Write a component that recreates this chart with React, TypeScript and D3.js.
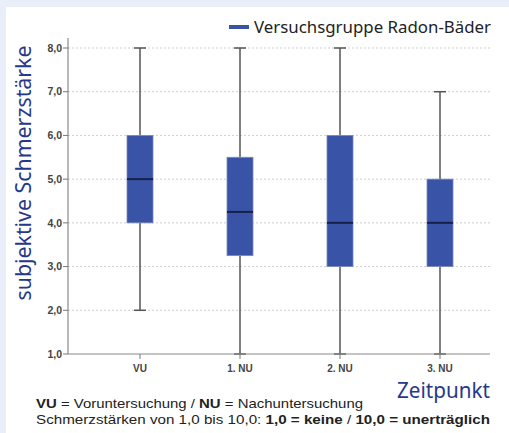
import React from "react";
import * as d3 from "d3";

const categories = ["VU", "1. NU", "2. NU", "3. NU"];
const mins = [2.0, 1.0, 1.0, 1.0];
const q1s = [4.0, 3.25, 3.0, 3.0];
const medians = [5.0, 4.25, 4.0, 4.0];
const q3s = [6.0, 5.5, 6.0, 5.0];
const maxs = [8.0, 8.0, 8.0, 7.0];
const yTicks = [1, 2, 3, 4, 5, 6, 7, 8];
const legendLabel = "Versuchsgruppe Radon-Bäder";
const yTitle = "subjektive Schmerzstärke";
const xTitle = "Zeitpunkt";

const W = 509;
const H = 433;

export default function App() {
  const x = d3.scaleBand<string>().domain(categories).range([90, 490]);
  const y = d3.scaleLinear().domain([1, 8]).range([354, 48]);
  const fmt = (v: number) => v.toFixed(1).replace(".", ",");
  const boxW = 26;
  const capW = 12;
  const axisLeft = 68;
  const axisRight = 490;
  const blue = "#3953a6";
  const titleBlue = "#27388a";
  const font = "'Noto Sans', 'Open Sans', sans-serif";
  const noteFont = "'Liberation Sans', Arial, sans-serif";

  return (
    <div style={{ position: "absolute", left: 0, top: 0 }}>
      <svg width={W} height={H} style={{ display: "block" }}>
        <rect x={0} y={0} width={W} height={H} fill="#e9eef8" />
        <rect x={6} y={7} width={W - 6} height={H - 7} fill="#ffffff" />

        {/* gridlines */}
        {yTicks.slice(1).map((t) => (
          <line
            key={"g" + t}
            x1={axisLeft}
            x2={axisRight}
            y1={y(t)}
            y2={y(t)}
            stroke="#cfcfcf"
            strokeWidth={1}
            strokeDasharray="2,2"
          />
        ))}

        {/* boxes */}
        {categories.map((c, i) => {
          const cx = (x(c) as number) + x.bandwidth() / 2;
          return (
            <g key={c}>
              <line x1={cx} x2={cx} y1={y(maxs[i])} y2={y(q3s[i])} stroke="#555" strokeWidth={1.5} />
              <line x1={cx} x2={cx} y1={y(q1s[i])} y2={y(mins[i])} stroke="#555" strokeWidth={1.5} />
              <line x1={cx - capW / 2} x2={cx + capW / 2} y1={y(maxs[i])} y2={y(maxs[i])} stroke="#555" strokeWidth={1.5} />
              <line x1={cx - capW / 2} x2={cx + capW / 2} y1={y(mins[i])} y2={y(mins[i])} stroke="#555" strokeWidth={1.5} />
              <rect
                x={cx - boxW / 2}
                y={y(q3s[i])}
                width={boxW}
                height={y(q1s[i]) - y(q3s[i])}
                fill={blue}
                stroke="#7b88bd"
                strokeWidth={0.8}
              />
              <line
                x1={cx - boxW / 2}
                x2={cx + boxW / 2}
                y1={y(medians[i])}
                y2={y(medians[i])}
                stroke="#16204a"
                strokeWidth={2}
              />
            </g>
          );
        })}

        {/* axes */}
        <line x1={axisLeft} x2={axisLeft} y1={38} y2={354} stroke="#8a8a8a" strokeWidth={1.2} />
        <line x1={axisLeft} x2={axisRight} y1={354} y2={354} stroke="#8a8a8a" strokeWidth={1.2} />
        {yTicks.map((t) => (
          <g key={"t" + t}>
            <line x1={axisLeft - 5} x2={axisLeft} y1={y(t)} y2={y(t)} stroke="#777" strokeWidth={1} />
            <text
              x={axisLeft - 6}
              y={y(t)}
              dy="0.35em"
              textAnchor="end"
              fontFamily="Arial, 'Liberation Sans', sans-serif"
              fontWeight="bold"
              fontSize={10.5}
              fill="#444"
            >
              {fmt(t)}
            </text>
          </g>
        ))}
        {categories.map((c) => {
          const cx = (x(c) as number) + x.bandwidth() / 2;
          return (
            <g key={"x" + c}>
              <line x1={cx} x2={cx} y1={354} y2={359} stroke="#777" strokeWidth={1} />
              <text
                x={cx}
                y={372}
                textAnchor="middle"
                fontFamily="Arial, 'Liberation Sans', sans-serif"
                fontWeight="bold"
                fontSize={10}
                fill="#444"
              >
                {c}
              </text>
            </g>
          );
        })}

        {/* legend */}
        <line x1={229} x2={249} y1={27} y2={27} stroke={blue} strokeWidth={4} />
        <text x={254} y={33} fontFamily={font} fontSize={16.5} fill="#222" textLength={237} lengthAdjust="spacingAndGlyphs">
          {legendLabel}
        </text>

        {/* titles */}
        <text
          transform={`translate(31,${173}) rotate(-90)`}
          textAnchor="middle"
          fontFamily={font}
          fontSize={21}
          fill={titleBlue}
          textLength={255}
          lengthAdjust="spacingAndGlyphs"
        >
          {yTitle}
        </text>
        <text x={490} y={398} textAnchor="end" fontFamily={font} fontSize={21} fill={titleBlue} textLength={93} lengthAdjust="spacingAndGlyphs">
          {xTitle}
        </text>

        {/* footnotes */}
        <text x={36} y={408} fontFamily={noteFont} fontSize={13.5} fill="#222" textLength={327} lengthAdjust="spacingAndGlyphs">
          <tspan fontWeight="bold">VU</tspan>
          <tspan> = Voruntersuchung / </tspan>
          <tspan fontWeight="bold">NU</tspan>
          <tspan> = Nachuntersuchung</tspan>
        </text>
        <text x={36} y={424} fontFamily={noteFont} fontSize={13.5} fill="#222" textLength={454} lengthAdjust="spacingAndGlyphs">
          <tspan>Schmerzstärken von 1,0 bis 10,0: </tspan>
          <tspan fontWeight="bold">1,0 = keine</tspan>
          <tspan> / </tspan>
          <tspan fontWeight="bold">10,0 = unerträglich</tspan>
        </text>
      </svg>
    </div>
  );
}
